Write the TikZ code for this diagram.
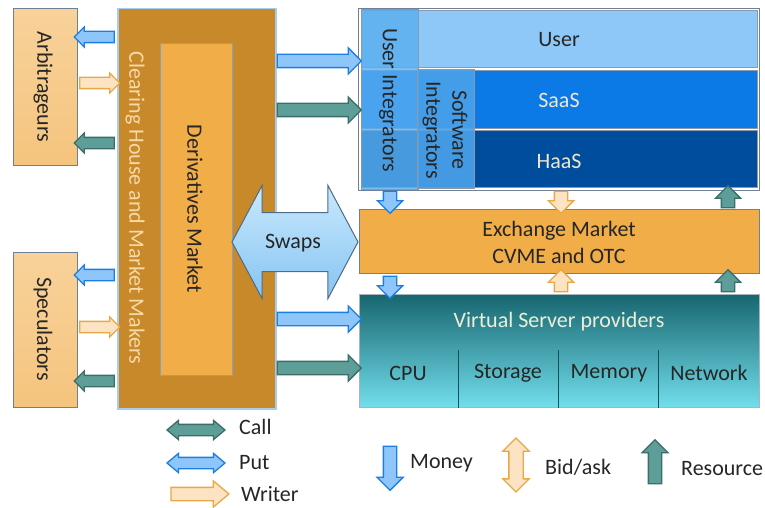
\documentclass[tikz,border=0pt]{standalone}
\usepackage{fontspec}
\setmainfont{Carlito}
\usetikzlibrary{shapes.arrows}
\definecolor{txt}{HTML}{262626}
\definecolor{sidefill}{HTML}{F5C47E}
\definecolor{sidetop}{HTML}{F8D29A}
\definecolor{slate}{HTML}{6F7F95}
\definecolor{chfill}{HTML}{C8892A}
\definecolor{chline}{HTML}{A8CCEB}
\definecolor{chtext}{HTML}{F6D9A8}
\definecolor{dmfill}{HTML}{F0AD48}
\definecolor{dmline}{HTML}{7FA4C8}
\definecolor{userfill}{HTML}{8DC8F9}
\definecolor{uifill}{HTML}{5AAEF0}
\definecolor{sifill}{HTML}{4BA2EA}
\definecolor{saasfill}{HTML}{0B79E6}
\definecolor{haasfill}{HTML}{004D9E}
\definecolor{lighttxt}{HTML}{F3E6D0}
\definecolor{vsptop}{HTML}{17666F}
\definecolor{vspbot}{HTML}{72DEEC}
\definecolor{vsptxt}{HTML}{EEEED8}
\definecolor{moneyfill}{HTML}{8EC6FA}
\definecolor{moneyline}{HTML}{1A7EE6}
\definecolor{callfill}{HTML}{5E9E98}
\definecolor{callline}{HTML}{3B6E6A}
\definecolor{writefill}{HTML}{FBE3C4}
\definecolor{writeline}{HTML}{E9A844}
\definecolor{swaptop}{HTML}{C9E9FD}
\definecolor{swapbot}{HTML}{86C4F2}
\definecolor{swapline}{HTML}{4F6A86}
\begin{document}
\begin{tikzpicture}[x=1pt,y=-1pt,
  font=\fontsize{22}{25}\selectfont, text=txt,
  box/.style={draw=slate, line width=1pt, inner sep=0pt, anchor=north west},
  lbl/.style={inner sep=0pt, align=center},
  vlbl/.style={inner sep=0pt, align=center, rotate=-90},
  money/.style={draw=moneyline, fill=moneyfill, line width=1.3pt},
  callc/.style={draw=callline, fill=callfill, line width=1.3pt},
  writec/.style={draw=writeline, fill=writefill, line width=1.3pt},
  small/.style={single arrow, minimum height=40pt, inner xsep=0pt, inner ysep=5pt, single arrow head extend=4.5pt, minimum width=0pt},
  mid/.style={single arrow, minimum height=84pt, inner xsep=0pt, inner ysep=6pt, single arrow head extend=6.5pt, minimum width=0pt},
  vert/.style={single arrow, minimum height=22pt, inner xsep=0pt, inner ysep=6pt, single arrow head extend=6pt, minimum width=0pt},
  legd/.style={double arrow, minimum height=58pt, inner xsep=0pt, inner ysep=5pt, double arrow head extend=4pt, double arrow tip angle=80, minimum width=0pt},
  legs/.style={single arrow, inner xsep=0pt, inner ysep=6pt, single arrow head extend=6.5pt, minimum width=0pt}
]
\useasboundingbox (0,0) rectangle (765,508);

% left side boxes
\node[box, top color=sidetop, bottom color=sidefill, minimum width=64pt, minimum height=157pt] (arb) at (13,8) {};
\node[vlbl] (arbt) at (43,87) {Arbitrageurs};
\node[box, top color=sidetop, bottom color=sidefill, minimum width=64pt, minimum height=155pt] (spec) at (13,252) {};
\node[vlbl] (spect) at (43,329) {Speculators};

% clearing house
\node[box, draw=chline, line width=1.5pt, fill=chfill, minimum width=158pt, minimum height=400pt] (ch) at (117,8) {};
\node[vlbl, text=chtext] (cht) at (135,208) {Clearing House and Market Makers};
\node[box, draw=dmline, fill=dmfill, minimum width=72pt, minimum height=332pt] (dm) at (160,43) {};
\node[vlbl] (dmt) at (195,209) {Derivatives Market};

% arrows between clearing house and side boxes
\node[small, money, rotate=180] (a1) at (97,37) {};
\node[small, writec] (a2) at (97,83) {};
\node[small, callc, rotate=180] (a3) at (97,143) {};
\node[small, money, rotate=180] (s1) at (97,275) {};
\node[small, writec] (s2) at (97,327) {};
\node[small, callc, rotate=180] (s3) at (97,381) {};

% right group
\node[box, minimum width=401pt, minimum height=182pt, fill=white] (grp) at (358,8) {};
\node[box, draw=slate!80, fill=userfill, minimum width=396pt, minimum height=57pt] (user) at (361,10) {};
\node[lbl] (usert) at (559,40) {User};
\node[box, draw=slate!80, fill=saasfill, minimum width=396pt, minimum height=58pt] (saas) at (361,70) {};
\node[lbl, text=lighttxt] (saast) at (559,100) {SaaS};
\node[box, draw=slate!80, fill=haasfill, minimum width=396pt, minimum height=57pt] (haas) at (361,130) {};
\node[lbl, text=lighttxt] (haast) at (559,161) {HaaS};
\node[box, draw=slate!80, fill=uifill, fill opacity=0.8, minimum width=57pt, minimum height=180pt] (ui) at (361,9) {};
\node[vlbl] (uit) at (388,100) {User Integrators};
\node[box, draw=slate!80, fill=sifill, fill opacity=0.9, minimum width=57pt, minimum height=119pt] (si) at (417,69) {};
\node[vlbl] (sit) at (445,130) {Software\\[1pt]Integrators};

% exchange market
\node[box, fill=dmfill, minimum width=400pt, minimum height=64pt] (ex) at (359,209) {};
\node[lbl] (ext) at (559,242) {Exchange Market\\[2pt]CVME and OTC};

% virtual server providers
\node[box, draw=slate!60, top color=vsptop, bottom color=vspbot, minimum width=400pt, minimum height=113pt] (vsp) at (359,294) {};
\node[lbl, text=vsptxt] (vspt) at (559,322) {Virtual Server providers};
\foreach \xx/\nm in {458/d1,558/d2,658/d3} {
  \coordinate (\nm t) at (\xx,350);
  \draw[draw=vsptop!80!black, line width=1pt] (\nm t) -- (\nm t |- vsp.south);
}
\node[lbl] (cpu) at (408,373) {CPU};
\node[lbl] (sto) at (508,373) {Storage};
\node[lbl] (mem) at (609,373) {Memory};
\node[lbl] (net) at (709,373) {Network};

% arrows from clearing house to right
\node[mid, money] (m1) at (316,61) {};
\node[mid, callc] (m2) at (316,110) {};
\node[mid, money] (m3) at (316,319) {};
\node[mid, callc] (m4) at (316,368) {};

% vertical arrows
\node[vert, money, rotate=-90] (v1) at (390,199) {};
\node[vert, money, rotate=-90] (v2) at (390,284) {};
\node[vert, writec, rotate=-90] (v3) at (561,199) {};
\node[vert, writec, rotate=90] (v4) at (561,284) {};
\node[vert, callc, rotate=90] (v5) at (728,200) {};
\node[vert, callc, rotate=90] (v6) at (728,284) {};

% swaps
\node[double arrow, draw=swapline, line width=1pt, top color=swaptop, bottom color=swapbot,
  minimum height=126pt, inner xsep=0pt, inner ysep=29pt, double arrow head extend=27pt,
  double arrow tip angle=124, minimum width=0pt] (sw) at (295,242) {};
\node[lbl] (swt) at (293,243) {Swaps};

% legend
\node[legd, callc] (lc) at (196,430) {};
\node[lbl, anchor=west] (lct) at (239,427) {Call};
\node[legd, money] (lp) at (196,463) {};
\node[lbl, anchor=west] (lpt) at (239,463) {Put};
\node[legs, writec, minimum height=58pt, single arrow tip angle=80] (lw) at (196,494) {};
\node[lbl, anchor=west] (lwt) at (241,494) {Writer};

\node[legs, money, minimum height=44pt, rotate=-90] (lm) at (390,465) {};
\node[lbl, anchor=west] (lmt) at (410,463) {Money};
\node[double arrow, writec, minimum height=54pt, inner xsep=0pt, inner ysep=6.5pt, double arrow head extend=6pt, minimum width=0pt, rotate=90] (lb) at (516,465) {};
\node[lbl, anchor=west] (lbt) at (545,467) {Bid/ask};
\node[legs, callc, minimum height=44pt, rotate=90] (lr) at (655,465) {};
\node[lbl, anchor=west] (lrt) at (681,469) {Resource};
\end{tikzpicture}
\end{document}
